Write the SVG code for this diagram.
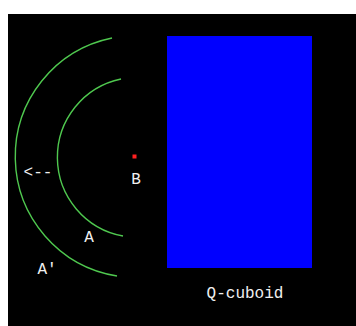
<svg xmlns="http://www.w3.org/2000/svg" width="356" height="326" viewBox="0 0 356 326">
<style>
.arc{fill:none;stroke:#4fc84f;stroke-width:1.4}
.lbl{fill:#f0f0f0;font-family:"Liberation Mono","DejaVu Sans Mono",monospace;font-size:16px}
</style>
<rect x="0" y="0" width="356" height="326" fill="#ffffff"/>
<rect x="8" y="14" width="348" height="312" fill="#000000"/>
<g id="connectors">
<path class="arc" d="M112,38 A121,121 0 0 0 117,276"/>
<path class="arc" d="M121,79 A80,80 0 0 0 123,236"/>
</g>
<g id="cuboid">
<rect x="167" y="36" width="145" height="232" fill="#0000ff"/>
<text class="lbl" x="245" y="298" text-anchor="middle" font-size="18">Q-cuboid</text>
</g>
<g id="B">
<rect x="132.5" y="154.5" width="4" height="4" fill="#ff2020"/>
<text class="lbl" x="136" y="184" text-anchor="middle">B</text>
</g>
<g id="A">
<text class="lbl" x="89" y="242" text-anchor="middle">A</text>
</g>
<g id="Aprime">
<text class="lbl" x="47" y="274" text-anchor="middle">A'</text>
</g>
<g id="arrow">
<text class="lbl" x="38" y="177" text-anchor="middle" font-size="17">&lt;--</text>
</g>
</svg>
